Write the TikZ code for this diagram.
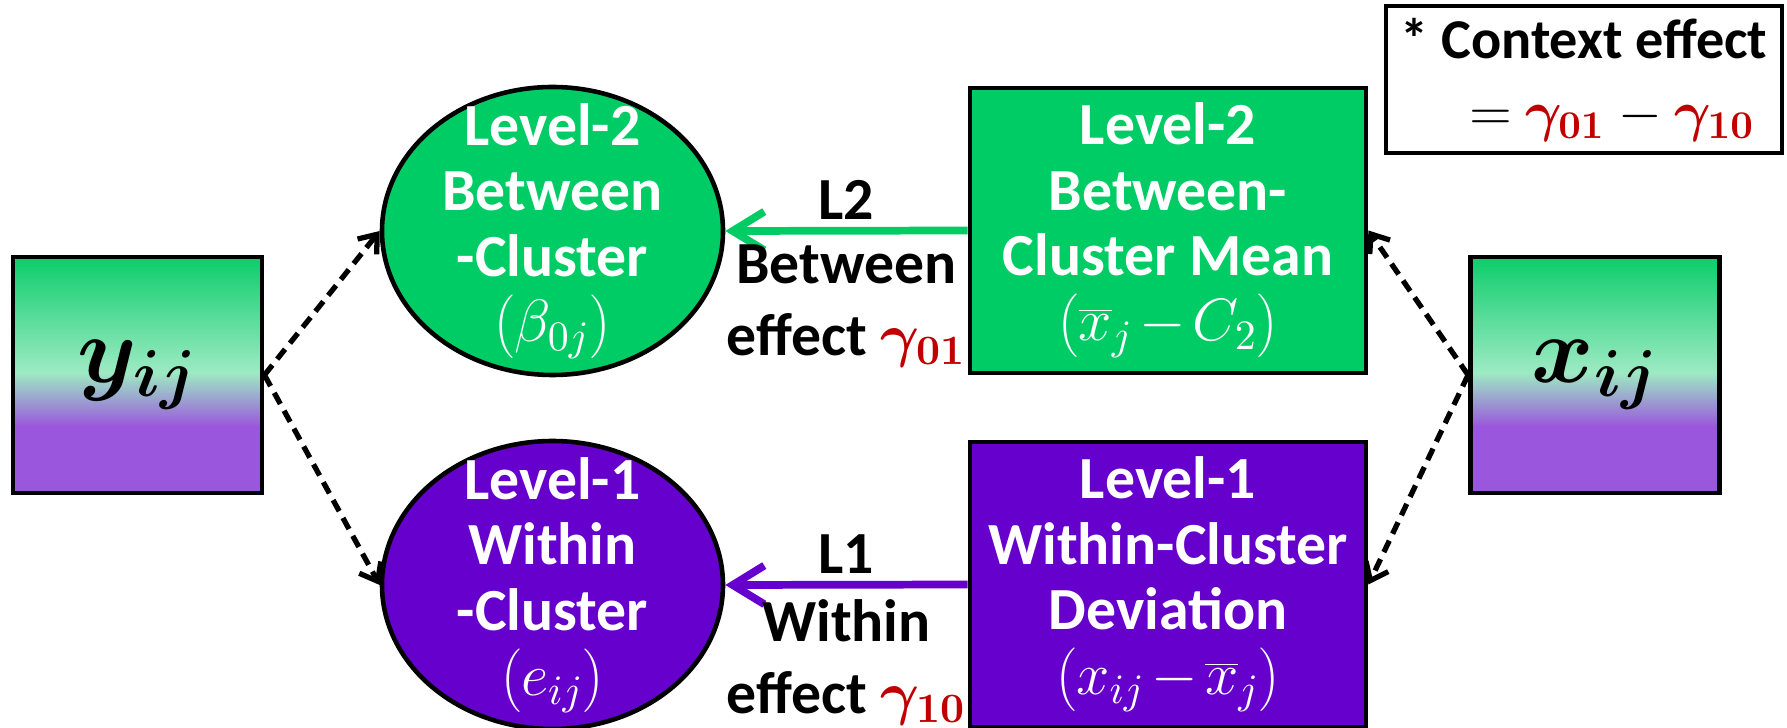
\RequirePackage{fix-cm}
\documentclass[tikz,border=0pt]{standalone}
\usepackage[no-math]{fontspec}
\setmainfont{Carlito}
\usepackage{bm}
\usepackage{tikz}
\usetikzlibrary{shapes.geometric, arrows.meta, positioning}

\definecolor{lvtwo}{HTML}{00CC66}
\definecolor{lvone}{HTML}{6600CC}
\definecolor{effred}{HTML}{C00000}
\definecolor{gradgreen}{HTML}{0CCD6B}
\definecolor{gradmint}{HTML}{9DEAC3}
\definecolor{gradpurple}{HTML}{9A56DC}

\pgfdeclareverticalshading{twolevel}{100bp}{color(0bp)=(gradpurple); color(39bp)=(gradpurple);
  color(50.5bp)=(gradmint); color(75bp)=(gradgreen); color(100bp)=(gradgreen)}

\tikzset{
	boldtext/.style={font=\fontsize{17}{18.6}\selectfont\bfseries, align=center}
}
\tikzset{
	whitetext/.style={boldtext, text=white}
}
\tikzset{
  efftext/.style={font=\fontsize{17}{20.5}\selectfont\bfseries, align=center},
  varbox/.style={draw, line width=1.4pt, shade, shading=twolevel, minimum width=2.49cm,
    minimum height=2.36cm, inner sep=0pt, font=\fontsize{27}{30}\selectfont},
  levelellipse/.style={ellipse, draw, line width=1.3pt, fill=#1, minimum width=3.41cm,
    minimum height=2.88cm, inner sep=0pt},
  levelbox/.style={draw, line width=1.4pt, fill=#1, minimum width=3.96cm,
    minimum height=2.85cm, inner sep=0pt, whitetext},
  dasharrow/.style={line width=1.5pt, dash pattern=on 3.6pt off 2.2pt,
    -{Straight Barb[length=4.5pt,width=7pt]}},
  effectarrow/.style={draw=#1, line width=2.2pt, -{Straight Barb[length=9pt,width=11pt]}}
}
\newcommand{\rgam}[1]{\textcolor{effred}{\(\bm{\gamma_{#1}}\)}}
\newcommand{\pwrap}[1]{\(\medmuskip=2mu\left(\vrule height 14pt depth 4pt width 0pt #1\right)\)}

\begin{document}
\begin{tikzpicture}
      \useasboundingbox (0,0) rectangle (17.87,-7.28);
      % observed variables
      \node[varbox] (yvar) at (1.375,-3.75) {\(\bm{y_{ij}}\)};
      \node[varbox] (xvar) at (15.95,-3.75) {\(\bm{x_{ij}}\)};
      % outcome parts
      \node[levelellipse=lvtwo] (btw) at (5.525,-2.31) {};
      \node[whitetext] (btwtext) at (btw) {Level-2\\Between\\-Cluster\\\pwrap{\beta_{0j}}};
      \node[levelellipse=lvone] (wth) at (5.525,-5.85) {};
      \node[whitetext] (wthtext) at (wth) {Level-1\\Within\\-Cluster\\\pwrap{e_{ij}}};
      % predictor parts
      \node[levelbox=lvtwo] (bmean) at (11.68,-2.305) {Level-2\\Between-\\Cluster Mean\\\pwrap{\overline{x}_j - C_2}};
      \node[levelbox=lvone] (wdev) at (11.68,-5.845) {Level-1\\Within-Cluster\\Deviation\\\pwrap{x_{ij} - \overline{x}_j}};
      % context effect note
      \node[draw, line width=1pt, minimum width=3.96cm, minimum height=1.41cm, align=center,
        font=\fontsize{16}{20.5}\selectfont\bfseries] (ctx) at (15.84,-0.795)
        {* Context effect\\\quad\(=\) \rgam{01} \(-\) \rgam{10}};
      % decomposition
      \draw[dasharrow] (yvar.east) -- (btw.west);
      \draw[dasharrow] (yvar.east) -- (wth.west);
      \draw[dasharrow] (xvar.west) -- (bmean.east);
      \draw[dasharrow] (xvar.west) -- (wdev.east);
      % effects
      \draw[effectarrow=lvtwo] (bmean.west) -- (btw.east)
        node[midway, above, efftext, inner sep=2pt] (ltwo) {L2}
        node[midway, below, efftext, inner sep=3pt] (beff) {Between\\effect \rgam{01}};
      \draw[effectarrow=lvone] (wdev.west) -- (wth.east)
        node[midway, above, efftext, inner sep=2pt] (lone) {L1}
        node[midway, below, efftext, inner sep=3pt] (weff) {Within\\effect \rgam{10}};
    \end{tikzpicture}
\end{document}
